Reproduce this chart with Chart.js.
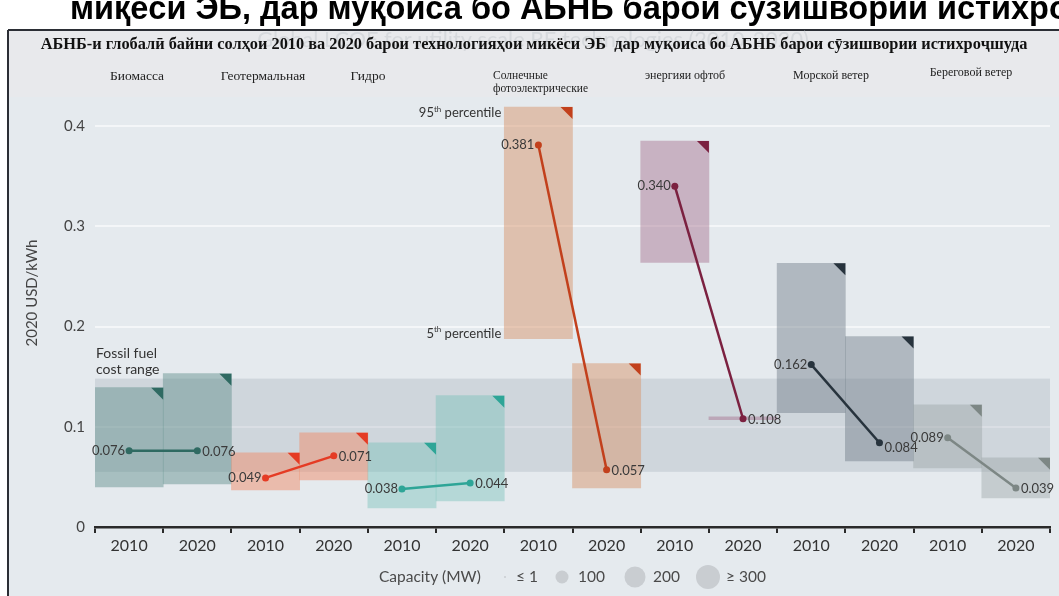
<!DOCTYPE html>
<html>
<head>
<meta charset="utf-8">
<script src="https://cdn.jsdelivr.net/npm/chart.js@4.4.1/dist/chart.umd.min.js"></script>
<style>
  html, body { margin: 0; padding: 0; background: #fff; overflow: hidden; }
  #graph { position: absolute; left: 0; top: 0; }
</style>
</head>
<body>
<canvas id="graph" width="1059" height="596"></canvas>
<script>
// categories: two years per technology
const years = ['2010', '2020', '2010', '2020', '2010', '2020', '2010', '2020', '2010', '2020', '2010', '2020', '2010', '2020'];
const technologies = ['Биомасса', 'Геотермальная', 'Гидро', 'Солнечные фотоэлектрические', 'энергияи офтоб', 'Морской ветер', 'Береговой ветер'];

// 5th and 95th percentile for each bar (USD/kWh)
const lowValues  = [0.040, 0.043, 0.037, 0.047, 0.019, 0.026, 0.188, 0.039, 0.264, 0.107, 0.114, 0.066, 0.059, 0.029];
const highValues = [0.139, 0.153, 0.074, 0.094, 0.084, 0.131, 0.419, 0.163, 0.385, 0.110, 0.263, 0.190, 0.122, 0.069];

// weighted averages
const avg2010 = [0.076, 0.049, 0.038, 0.381, 0.340, 0.162, 0.089];
const avg2020 = [0.076, 0.071, 0.044, 0.057, 0.108, 0.084, 0.039];

const fossilRange = [0.055, 0.148];
const legendSizes = ['≤ 1', '100', '200', '≥ 300'];

const topText = 'миқёси ЭБ, дар муқоиса бо АБНБ барои сӯзишвории истихроҷшуда';
const watermark = 'Global LCOE for utility scale RE technologies (2010-2020)';
const titleText = 'АБНБ-и глобалӣ байни солҳои 2010 ва 2020 барои технологияҳои микёси ЭБ  дар муқоиса бо АБНБ барои сӯзишвории истихроҷшуда';

// colours per technology
const lineColors = ['#2f6a62', '#e53b24', '#2ea597', '#c2401c', '#7b2140', '#27333d', '#7d8785'];
const barFills = ['rgba(90,140,135,0.45)', 'rgba(240,140,105,0.5)', 'rgba(110,190,180,0.4)', 'rgba(215,150,110,0.5)',
                  'rgba(165,110,140,0.45)', 'rgba(110,125,135,0.45)', 'rgba(150,160,160,0.4)'];

const SANS = 'Lato, "Open Sans", sans-serif';

// header label positions (x) and sizes for the technology names
const techLabelX = [137, 263, 368, 493, 685, 831, 971];
const techLabelSize = [13.5, 13.5, 13.5, 11.5, 12, 12, 12];

function fitFont(ctx, text, width, weight, family) {
    ctx.font = weight + ' 20px ' + family;
    const w = ctx.measureText(text).width;
    return 20 * width / w;
}

// frame, header texts
const framePlugin = {
    id: 'frame',
    beforeDraw(chart) {
        const ctx = chart.ctx;
        ctx.save();
        ctx.fillStyle = '#fff';
        ctx.fillRect(0, 0, 1059, 596);
        ctx.fillStyle = '#e5eaee';
        ctx.fillRect(9, 31, 1050, 565);
        ctx.fillStyle = '#e8e9ec';
        ctx.fillRect(9, 31, 1050, 66);

        // clipped heading above the frame
        ctx.fillStyle = '#000';
        ctx.font = 'bold 32.5px "Liberation Sans", Arial, sans-serif';
        ctx.textBaseline = 'alphabetic';
        ctx.textAlign = 'left';
        ctx.fillText(topText, 70, 19);

        ctx.strokeStyle = '#2b2e35';
        ctx.lineWidth = 2;
        ctx.beginPath();
        ctx.moveTo(8, 30); ctx.lineTo(1059, 30);
        ctx.moveTo(8, 30); ctx.lineTo(8, 596);
        ctx.stroke();

        // faint english title
        const ws = fitFont(ctx, watermark, 552, 'normal', SANS);
        ctx.font = ws + 'px ' + SANS;
        ctx.fillStyle = '#d6d9dd';
        ctx.textAlign = 'center';
        ctx.textBaseline = 'middle';
        ctx.fillText(watermark, 533, 40);

        // title
        const ts = fitFont(ctx, titleText, 988, 'bold', '"Liberation Serif", serif');
        ctx.font = 'bold ' + ts + 'px "Liberation Serif", serif';
        ctx.fillStyle = '#111';
        ctx.fillText(titleText, 534, 45);

        // technology names
        ctx.fillStyle = '#222';
        technologies.forEach((t, i) => {
            ctx.font = techLabelSize[i] + 'px "Liberation Serif", serif';
            if (i === 3) {
                ctx.textAlign = 'left';
                ctx.fillText('Солнечные', techLabelX[i], 76);
                ctx.fillText('фотоэлектрические', techLabelX[i], 89);
            } else {
                ctx.textAlign = 'center';
                ctx.fillText(t, techLabelX[i], i === 6 ? 73 : 76);
            }
        });

        // y axis title
        ctx.save();
        ctx.translate(32, 293);
        ctx.rotate(-Math.PI / 2);
        ctx.font = '15px ' + SANS;
        ctx.fillStyle = '#444';
        ctx.textAlign = 'center';
        ctx.fillText('2020 USD/kWh', 0, 0);
        ctx.restore();
        ctx.restore();
    },
    beforeDatasetsDraw(chart) {
        const {ctx, chartArea, scales} = chart;
        const top = scales.y.getPixelForValue(fossilRange[1]);
        const bottom = scales.y.getPixelForValue(fossilRange[0]);
        ctx.save();
        ctx.fillStyle = 'rgba(150,160,175,0.28)';
        ctx.fillRect(chartArea.left, top, chartArea.right - chartArea.left, bottom - top);
        ctx.font = '14px ' + SANS;
        ctx.fillStyle = '#333';
        ctx.textAlign = 'left';
        ctx.textBaseline = 'alphabetic';
        ctx.fillText('Fossil fuel', chartArea.left + 1, top - 21);
        ctx.fillText('cost range', chartArea.left + 1, top - 5);
        ctx.restore();
    },
    afterDatasetsDraw(chart) {
        const ctx = chart.ctx;
        const barMeta = chart.getDatasetMeta(0);
        ctx.save();
        // corner triangles on each bar
        barMeta.data.forEach((bar, i) => {
            const p = bar.getProps(['x', 'y', 'width', 'base'], true);
            const top = Math.min(p.y, p.base);
            const h = Math.abs(p.base - p.y);
            if (h < 12) return;
            const right = p.x + p.width / 2;
            ctx.fillStyle = lineColors[Math.floor(i / 2)];
            ctx.beginPath();
            ctx.moveTo(right - 12, top);
            ctx.lineTo(right, top);
            ctx.lineTo(right, top + 12);
            ctx.closePath();
            ctx.fill();
        });

        // percentile labels on the solar 2010 bar
        const solar = barMeta.data[6].getProps(['x', 'y', 'width', 'base'], true);
        const drawPct = (num, yy) => {
            const xr = solar.x - solar.width / 2 - 3;
            ctx.font = '13px ' + SANS;
            const w1 = ctx.measureText(num).width;
            const w3 = ctx.measureText(' percentile').width;
            ctx.font = '8px ' + SANS;
            const w2 = ctx.measureText('th').width;
            let x0 = xr - (w1 + w2 + w3);
            ctx.fillStyle = '#333';
            ctx.textAlign = 'left';
            ctx.textBaseline = 'middle';
            ctx.font = '13px ' + SANS;
            ctx.fillText(num, x0, yy);
            ctx.font = '8px ' + SANS;
            ctx.fillText('th', x0 + w1, yy - 4);
            ctx.font = '13px ' + SANS;
            ctx.fillText(' percentile', x0 + w1 + w2, yy);
        };
        drawPct('95', Math.min(solar.y, solar.base) + 6);
        drawPct('5', Math.max(solar.y, solar.base) - 5);

        // value labels
        ctx.font = '13px ' + SANS;
        ctx.fillStyle = '#3a3a3a';
        ctx.textBaseline = 'middle';
        for (let t = 0; t < technologies.length; t++) {
            const meta = chart.getDatasetMeta(t + 1);
            const p0 = meta.data[2 * t];
            const p1 = meta.data[2 * t + 1];
            ctx.textAlign = 'right';
            ctx.fillText(avg2010[t].toFixed(3), p0.x - 4, p0.y);
            ctx.textAlign = 'left';
            ctx.fillText(avg2020[t].toFixed(3), p1.x + 5, p1.y + (t === 5 ? 5 : 1));
        }
        ctx.restore();
    },
    afterDraw(chart) {
        const ctx = chart.ctx;
        ctx.save();
        const y = 577;
        ctx.font = '15.5px ' + SANS;
        ctx.fillStyle = '#4a4a4a';
        ctx.textBaseline = 'middle';
        ctx.textAlign = 'left';
        ctx.fillText('Capacity (MW)', 379, y);
        const dots = [[505, 1], [562, 6.5], [635, 10.5], [708, 12]];
        const textX = [516, 578, 653, 726];
        dots.forEach((d, i) => {
            ctx.fillStyle = '#c9cdd1';
            ctx.beginPath();
            ctx.arc(d[0], y, d[1], 0, Math.PI * 2);
            ctx.fill();
            ctx.fillStyle = '#4a4a4a';
            ctx.fillText(legendSizes[i], textX[i], y);
        });
        ctx.restore();
    }
};

// datasets: floating bars + one line per technology
const lineSets = technologies.map((t, k) => {
    const data = years.map(() => null);
    data[2 * k] = avg2010[k];
    data[2 * k + 1] = avg2020[k];
    return {
        type: 'line',
        label: t,
        data: data,
        borderColor: lineColors[k],
        backgroundColor: lineColors[k],
        borderWidth: 2.5,
        pointRadius: 3.5,
        pointBorderWidth: 0,
        spanGaps: false,
        order: 1
    };
});

new Chart(document.getElementById('graph'), {
    type: 'bar',
    data: {
        labels: years,
        datasets: [{
            label: 'range',
            data: lowValues.map((v, i) => [v, highValues[i]]),
            backgroundColor: years.map((_, i) => barFills[Math.floor(i / 2)]),
            borderWidth: 0,
            borderSkipped: false,
            barPercentage: 1,
            categoryPercentage: 1,
            order: 2
        }, ...lineSets]
    },
    options: {
        responsive: false,
        animation: false,
        devicePixelRatio: 1,
        layout: { padding: { left: 0, right: 9, top: 106, bottom: 0 } },
        plugins: {
            legend: { display: false },
            tooltip: { enabled: false }
        },
        scales: {
            x: {
                offset: true,
                grid: { offset: true, drawOnChartArea: false, drawTicks: true, tickLength: 6, color: '#2a2a2a', lineWidth: 2 },
                border: { display: true, color: '#2a2a2a', width: 2.5 },
                ticks: { color: '#333', font: { size: 16, family: SANS }, padding: 3, maxRotation: 0, autoSkip: false },
                afterFit(s) { s.height = 69; }
            },
            y: {
                min: 0,
                max: 0.42,
                ticks: {
                    stepSize: 0.1,
                    includeBounds: false,
                    color: '#444',
                    font: { size: 15, family: SANS },
                    padding: 10,
                    callback: v => v === 0 ? '0' : v.toFixed(1)
                },
                grid: { color: '#f4f6f8', lineWidth: 2, drawTicks: false },
                border: { display: false },
                afterFit(s) { s.width = 95; }
            }
        }
    },
    plugins: [framePlugin]
});
</script>
</body>
</html>
